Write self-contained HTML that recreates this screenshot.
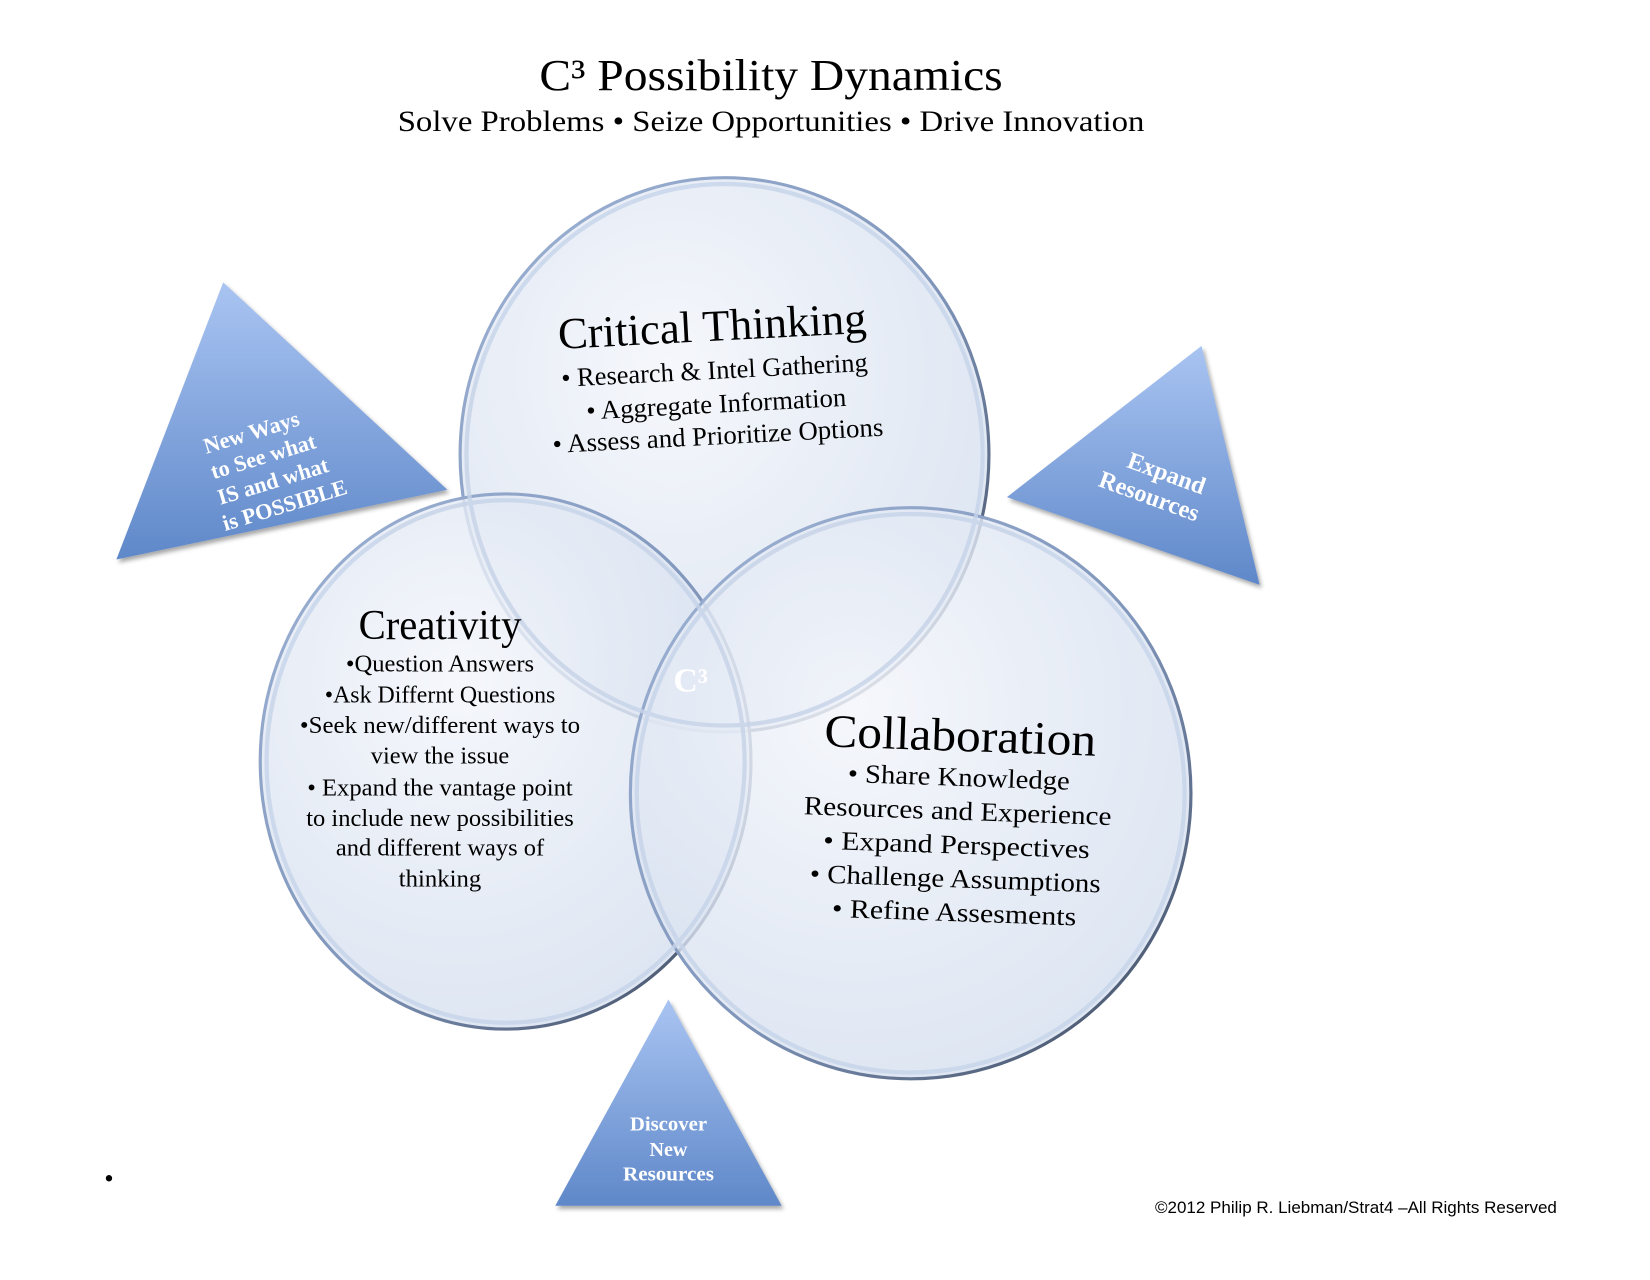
<!DOCTYPE html>
<html><head><meta charset="utf-8"><style>
body{margin:0;width:1650px;height:1275px;background:#fff;overflow:hidden;font-family:"Liberation Serif",serif}
</style></head><body>
<svg width="1650" height="1275" viewBox="0 0 1560 1205.5" xmlns="http://www.w3.org/2000/svg" font-family="Liberation Serif, serif">
<defs>
<radialGradient id="cg" cx="0.4" cy="0.35" r="0.7">
<stop offset="0" stop-color="#f4f6fb" stop-opacity="0.85"/>
<stop offset="1" stop-color="#d2ddee" stop-opacity="0.75"/>
</radialGradient>
<linearGradient id="sg" x1="0" y1="0" x2="1" y2="1">
<stop offset="0" stop-color="#9fb4d6"/>
<stop offset="0.55" stop-color="#7f95ba"/>
<stop offset="1" stop-color="#3b4558"/>
</linearGradient>
<linearGradient id="tg" x1="0" y1="0" x2="0" y2="1">
<stop offset="0" stop-color="#a9c4f2"/>
<stop offset="1" stop-color="#5f88c9"/>
</linearGradient>
<filter id="sh"><feDropShadow dx="2" dy="3" stdDeviation="2" flood-color="#000" flood-opacity="0.35"/></filter>
</defs>
<text x="729" y="85" font-size="42" text-anchor="middle" textLength="438" lengthAdjust="spacingAndGlyphs">C³ Possibility Dynamics</text>
<text x="729" y="124" font-size="28" text-anchor="middle" textLength="706" lengthAdjust="spacingAndGlyphs">Solve Problems  • Seize Opportunities •  Drive Innovation</text>

<polygon points="211,267 423,463 110,529" fill="url(#tg)" filter="url(#sh)"/>
<polygon points="1136,327 1191,553 952,470" fill="url(#tg)" filter="url(#sh)"/>
<polygon points="632,945 739,1140 525,1140" fill="url(#tg)" filter="url(#sh)"/>

<g stroke="url(#sg)" stroke-width="3" fill="url(#cg)">
<ellipse cx="685" cy="430" rx="250" ry="262"/>
<ellipse cx="478" cy="720" rx="232" ry="253"/>
<ellipse cx="861" cy="750" rx="265" ry="270"/>
</g>
<g fill="none" stroke="#c6d3e8" stroke-width="4" opacity="0.8">
<ellipse cx="685" cy="430" rx="244" ry="256"/>
<ellipse cx="478" cy="720" rx="226" ry="247"/>
<ellipse cx="861" cy="750" rx="259" ry="264"/>
</g>

<g transform="rotate(-3 680 360)" text-anchor="middle">
<text x="676" y="322" font-size="42" textLength="292" lengthAdjust="spacingAndGlyphs">Critical Thinking</text>
<text x="676" y="358" font-size="25" textLength="290" lengthAdjust="spacingAndGlyphs">• Research &amp; Intel Gathering</text>
<text x="676" y="390" font-size="25" textLength="246" lengthAdjust="spacingAndGlyphs">• Aggregate Information</text>
<text x="676" y="420" font-size="25" textLength="313" lengthAdjust="spacingAndGlyphs">• Assess and Prioritize Options</text>
</g>
<g text-anchor="middle">
<text x="416" y="604" font-size="40" textLength="154" lengthAdjust="spacingAndGlyphs">Creativity</text>
<text x="416" y="635" font-size="23" textLength="178" lengthAdjust="spacingAndGlyphs">•Question Answers</text>
<text x="416" y="664" font-size="23" textLength="218" lengthAdjust="spacingAndGlyphs">•Ask Differnt Questions</text>
<text x="416" y="693" font-size="23" textLength="265" lengthAdjust="spacingAndGlyphs">•Seek new/different ways to</text>
<text x="416" y="722" font-size="23" textLength="131" lengthAdjust="spacingAndGlyphs">view the issue</text>
<text x="416" y="752" font-size="23" textLength="251" lengthAdjust="spacingAndGlyphs">• Expand the vantage point</text>
<text x="416" y="781" font-size="23" textLength="253" lengthAdjust="spacingAndGlyphs">to include new possibilities</text>
<text x="416" y="809" font-size="23" textLength="197" lengthAdjust="spacingAndGlyphs">and different ways of</text>
<text x="416" y="838" font-size="23" textLength="78" lengthAdjust="spacingAndGlyphs">thinking</text>
<text x="653" y="654" font-size="32" fill="#fff" font-weight="bold">C³</text>
</g>
<g transform="rotate(2 905 780)" text-anchor="middle">
<text x="905" y="710" font-size="44" textLength="257" lengthAdjust="spacingAndGlyphs">Collaboration</text>
<text x="905" y="743" font-size="25" textLength="210" lengthAdjust="spacingAndGlyphs">• Share Knowledge</text>
<text x="905" y="775" font-size="25" textLength="291" lengthAdjust="spacingAndGlyphs">Resources and Experience</text>
<text x="905" y="807" font-size="25" textLength="252" lengthAdjust="spacingAndGlyphs">•  Expand Perspectives</text>
<text x="905" y="839" font-size="25" textLength="275" lengthAdjust="spacingAndGlyphs">• Challenge Assumptions</text>
<text x="905" y="871" font-size="25" textLength="231" lengthAdjust="spacingAndGlyphs">• Refine  Assesments</text>
</g>
<g fill="#fff" font-size="21" font-weight="bold" text-anchor="middle" transform="rotate(-17 252 442)">
<text x="248" y="413">New Ways</text>
<text x="252" y="438">to See what</text>
<text x="254" y="463">IS and what</text>
<text x="258" y="488">is POSSIBLE</text>
</g>
<g fill="#fff" font-size="23" font-weight="bold" text-anchor="middle" transform="rotate(20 1092 460)">
<text x="1098" y="452">Expand</text>
<text x="1090" y="478">Resources</text>
</g>
<g fill="#fff" font-size="19" font-weight="bold" text-anchor="middle">
<text x="632" y="1069" textLength="73" lengthAdjust="spacingAndGlyphs">Discover</text>
<text x="632" y="1093">New</text>
<text x="632" y="1116" textLength="86" lengthAdjust="spacingAndGlyphs">Resources</text>
</g>
<circle cx="103" cy="1114" r="3" fill="#000"/>
<text x="1472" y="1147" font-size="16" text-anchor="end" font-family="Liberation Sans, sans-serif" textLength="380" lengthAdjust="spacingAndGlyphs">©2012 Philip R. Liebman/Strat4 –All Rights Reserved</text>
</svg>
</body></html>
